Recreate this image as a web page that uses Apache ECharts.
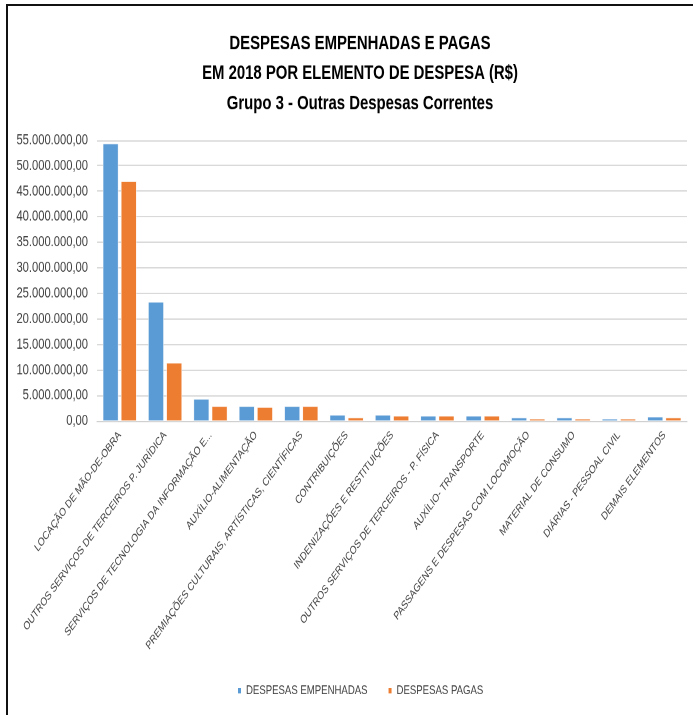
<!DOCTYPE html>
<html><head><meta charset="utf-8">
<script src="https://cdn.jsdelivr.net/npm/echarts@6/dist/echarts.min.js"></script>
<style>
html,body{margin:0;padding:0;background:#fff;overflow:hidden;}
#wrap{width:693px;height:715px;position:relative;overflow:hidden;}
#c{width:693px;height:530px;position:absolute;left:0;top:0;transform:scaleY(1.349057);transform-origin:0 0;}
#frame{position:absolute;left:6px;top:4px;width:700px;height:720px;border-top:2px solid #111;border-left:2px solid #111;pointer-events:none;}
</style></head>
<body>
<div id="wrap">
<div id="c"></div>
<div id="frame"></div>
</div>
<script>
const categories = [
  'LOCAÇÃO DE MÃO-DE-OBRA',
  'OUTROS SERVIÇOS DE TERCEIROS P. JURÍDICA',
  'SERVIÇOS DE TECNOLOGIA DA INFORMAÇÃO E...',
  'AUXÍLIO-ALIMENTAÇÃO',
  'PREMIAÇÕES CULTURAIS, ARTÍSTICAS, CIENTÍFICAS',
  'CONTRIBUIÇÕES',
  'INDENIZAÇÕES E RESTITUIÇÕES',
  'OUTROS SERVIÇOS DE TERCEIROS - P. FÍSICA',
  'AUXÍLIO- TRANSPORTE',
  'PASSAGENS E DESPESAS COM LOCOMOÇÃO',
  'MATERIAL DE CONSUMO',
  'DIÁRIAS - PESSOAL CIVIL',
  'DEMAIS ELEMENTOS'
];
const empenhadas = [54300000, 23300000, 4300000, 2900000, 2900000, 1200000, 1200000, 1000000, 1000000, 650000, 650000, 450000, 850000];
const pagas = [46900000, 11400000, 2900000, 2700000, 2900000, 650000, 1000000, 1000000, 1000000, 450000, 450000, 450000, 650000];
const titleLines = ['DESPESAS EMPENHADAS E PAGAS', 'EM 2018 POR ELEMENTO DE DESPESA (R$)', 'Grupo 3 - Outras Despesas Correntes'];
const seriesNames = ['DESPESAS EMPENHADAS', 'DESPESAS PAGAS'];

const FONT = "'Liberation Sans', Arial, sans-serif";
function brl(v){
  const s = Math.round(v).toString().replace(/\B(?=(\d{3})+(?!\d))/g, '.');
  return s + ',00';
}
const chart = echarts.init(document.getElementById('c'), null, {renderer:'canvas', devicePixelRatio:2});
chart.setOption({
  backgroundColor:'#fff',
  animation:false,
  textStyle:{fontFamily:FONT},
  title:{
    text:titleLines.join('\n'), left:355, textAlign:'center', top:16,
    textStyle:{fontFamily:FONT, fontWeight:'bold', fontSize:14.9, lineHeight:22.4, color:'#000'}
  },
  legend:{
    top:507, left:236, padding:0, itemWidth:5, itemHeight:6, itemGap:19,
    icon:'rect',
    textStyle:{fontFamily:FONT, fontSize:9.6, color:'#404040', padding:[0,0,0,-1]},
    data:seriesNames
  },
  grid:{left:97, right:6, top:103.8, bottom:217.9, containLabel:false},
  xAxis:{
    type:'category', data:categories,
    axisLine:{lineStyle:{color:'#d0d0d0'}},
    axisTick:{show:false},
    axisLabel:{rotate:46, interval:0, fontSize:8.6, color:'#404040', fontFamily:FONT, margin:9}
  },
  yAxis:{
    type:'value', min:0, max:55000000, interval:5000000,
    axisLine:{show:false}, axisTick:{show:false},
    splitLine:{lineStyle:{color:'#d9d9d9', width:1}},
    axisLabel:{formatter:brl, fontSize:11.2, color:'#404040', fontFamily:FONT, margin:9}
  },
  series:[
    {name:seriesNames[0], type:'bar', data:empenhadas, barGap:'18%', barCategoryGap:'26%',
     itemStyle:{color:'#5B9BD5', borderColor:'#fff', borderWidth:0.4}},
    {name:seriesNames[1], type:'bar', data:pagas,
     itemStyle:{color:'#ED7D31', borderColor:'#fff', borderWidth:0.4}}
  ]
});
</script>
</body></html>
